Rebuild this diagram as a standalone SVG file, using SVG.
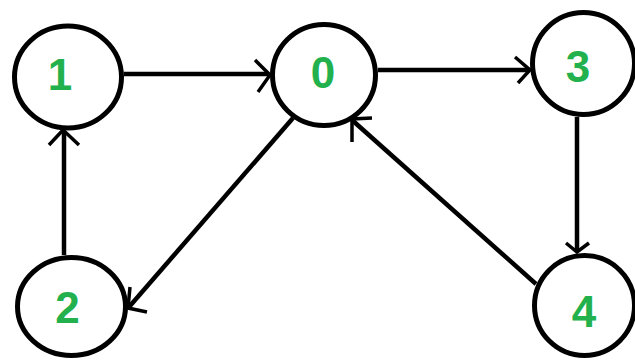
<svg xmlns="http://www.w3.org/2000/svg" width="635" height="361" viewBox="0 0 635 361">
<style>
.node{fill:#fff;stroke:#000;stroke-width:5}
.lbl{font-family:"Liberation Sans",Arial,sans-serif;font-weight:bold;font-size:44px;fill:#22b14c;text-anchor:middle}
.edge{stroke:#000;stroke-width:4.5;fill:none}
.head{stroke:#000;stroke-width:3.5;fill:none}
</style>
<rect width="635" height="361" fill="#fff"/>
<g id="connectors">
<line class="edge" x1="124" y1="74" x2="269" y2="74"/>
<polyline class="head" points="255,60 270,75 258,92"/>
<line class="edge" x1="378" y1="70" x2="529" y2="70"/>
<polyline class="head" points="515,57 530,70 518,83"/>
<line class="edge" x1="577" y1="117" x2="577" y2="251"/>
<polyline class="head" points="566,243 577,252 589,243"/>
<line class="edge" x1="536" y1="284" x2="352" y2="120"/>
<polyline class="head" points="372,118 352,119 352,142"/>
<line class="edge" x1="293" y1="118" x2="129" y2="307"/>
<polyline class="head" points="130,287 128,308 147,312"/>
<line class="edge" x1="64" y1="255" x2="64" y2="131"/>
<polyline class="head" points="49,145 63,130 79,145"/>
</g>
<g id="node1"><ellipse class="node" cx="68" cy="77" rx="53.5" ry="51"/><text class="lbl" x="60" y="90">1</text></g>
<g id="node0"><ellipse class="node" cx="324" cy="75" rx="51.5" ry="50.5"/><text class="lbl" x="323" y="88">0</text></g>
<g id="node3"><ellipse class="node" cx="583.5" cy="63.5" rx="51" ry="51"/><text class="lbl" x="578" y="82">3</text></g>
<g id="node2"><ellipse class="node" cx="71.5" cy="306.5" rx="54" ry="49"/><text class="lbl" x="67.5" y="323">2</text></g>
<g id="node4"><ellipse class="node" cx="584.5" cy="305.5" rx="50" ry="50"/><text class="lbl" x="584" y="327">4</text></g>
</svg>
